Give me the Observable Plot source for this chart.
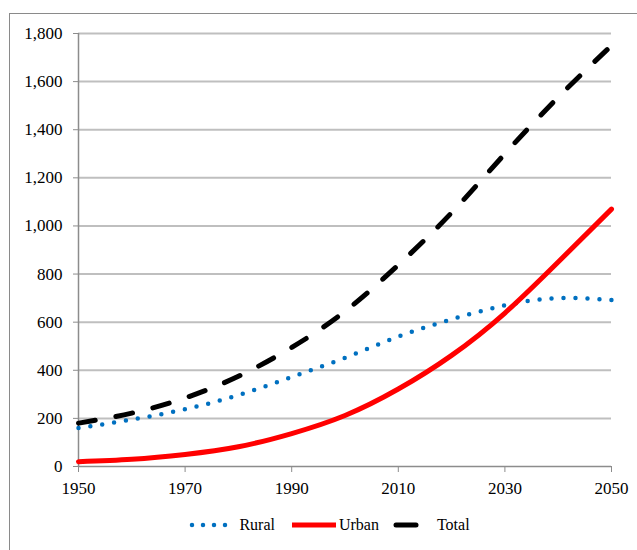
<!DOCTYPE html>
<html>
<head>
<meta charset="utf-8">
<script src="https://cdn.jsdelivr.net/npm/d3@7"></script>
<script src="https://cdn.jsdelivr.net/npm/@observablehq/plot@0.6"></script>
<style>
  body { margin: 0; background: #fff; }
  #wrap { position: relative; width: 637px; height: 550px; overflow: hidden; font-family: "Liberation Serif", "Times New Roman", "DejaVu Serif", serif; }
  #frame { position: absolute; left: 9px; top: 13px; width: 700px; height: 600px; border-left: 1.5px solid #8a8a8a; border-top: 1.5px solid #8a8a8a; }
  #chart { position: absolute; left: 0; top: 0; }
  #legend { position: absolute; top: 516px; left: 15px; width: 637px; display: flex; justify-content: center; align-items: center; font-size: 16px; color: #000; }
  #legend span.item { display: inline-flex; align-items: center; margin: 0 3px; }
  #legend svg { display: block; }
</style>
</head>
<body>
<div id="wrap">
  <div id="frame"></div>
  <div id="chart"></div>
  <div id="legend"></div>
</div>
<script>
const years = [1950, 1960, 1970, 1980, 1990, 2000, 2010, 2020, 2030, 2040, 2050];
const rural = [160, 195, 238, 297, 372, 452, 540, 612, 670, 700, 692];
const urban = [20, 30, 50, 82, 137, 212, 322, 462, 638, 850, 1070];
const total = [180, 222, 285, 375, 495, 645, 838, 1055, 1300, 1535, 1750];
const seriesNames = ["Rural", "Urban", "Total"];
const xTicks = [1950, 1970, 1990, 2010, 2030, 2050];
const yTicks = [0, 200, 400, 600, 800, 1000, 1200, 1400, 1600, 1800];

const rows = (vals) => years.map((y, i) => ({year: y, value: vals[i]}));

const axisGray = "#8c8c8c";
const serif = "Liberation Serif, Times New Roman, DejaVu Serif, serif";
const chart = Plot.plot({
  width: 637,
  height: 498,
  marginLeft: 78,
  marginRight: 26,
  marginTop: 33,
  marginBottom: 32,
  style: {fontFamily: serif, fontSize: "17px", background: "transparent", overflow: "visible"},
  x: {domain: [1950, 2050]},
  y: {domain: [0, 1800]},
  marks: [
    Plot.gridY(yTicks.filter(d => d > 0), {stroke: "#bfbfbf", strokeOpacity: 1, strokeWidth: 2}),
    Plot.ruleX([1950], {stroke: axisGray, strokeWidth: 1.5}),
    Plot.ruleY([0], {stroke: axisGray, strokeWidth: 1.5}),
    Plot.axisY({ticks: yTicks, tickFormat: d3.format(","), tickSize: 5, tickPadding: 11, stroke: axisGray, fill: "#000", label: null, fontSize: 17, fontFamily: serif}),
    Plot.axisX({ticks: xTicks, tickFormat: d => String(d), tickSize: 6, tickPadding: 9, stroke: axisGray, fill: "#000", label: null, fontSize: 17, fontFamily: serif}),
    Plot.line(rows(rural), {x: "year", y: "value", curve: "natural", stroke: "#0070c0", strokeWidth: 4.5, strokeDasharray: "0,12", strokeLinecap: "round"}),
    Plot.line(rows(urban), {x: "year", y: "value", curve: "natural", stroke: "#ff0000", strokeWidth: 5}),
    Plot.line(rows(total), {x: "year", y: "value", curve: "natural", stroke: "#000000", strokeWidth: 5, strokeDasharray: "17,21", strokeLinecap: "round"})
  ]
});
document.getElementById("chart").appendChild(chart);

// Legend
const styles = {
  Rural: {stroke: "#0070c0", dash: "0,11", cap: "round", w: 4.5, len: 44},
  Urban: {stroke: "#ff0000", dash: null, cap: "butt", w: 5, len: 44},
  Total: {stroke: "#000000", dash: null, cap: "round", w: 5, len: 20}
};
const legend = d3.select("#legend");
seriesNames.forEach((name) => {
  const s = styles[name];
  const item = legend.append("span").attr("class", "item");
  const svg = item.append("svg").attr("width", s.len + 6).attr("height", 12);
  const ln = svg.append("line").attr("x1", 3).attr("x2", 3 + s.len).attr("y1", 6).attr("y2", 6)
    .attr("stroke", s.stroke).attr("stroke-width", s.w).attr("stroke-linecap", s.cap);
  if (s.dash) ln.attr("stroke-dasharray", s.dash);
  item.append("span").text(name).style("margin-left", name === "Total" ? "18px" : "0px").style("margin-right", "8px");
});
</script>
</body>
</html>
